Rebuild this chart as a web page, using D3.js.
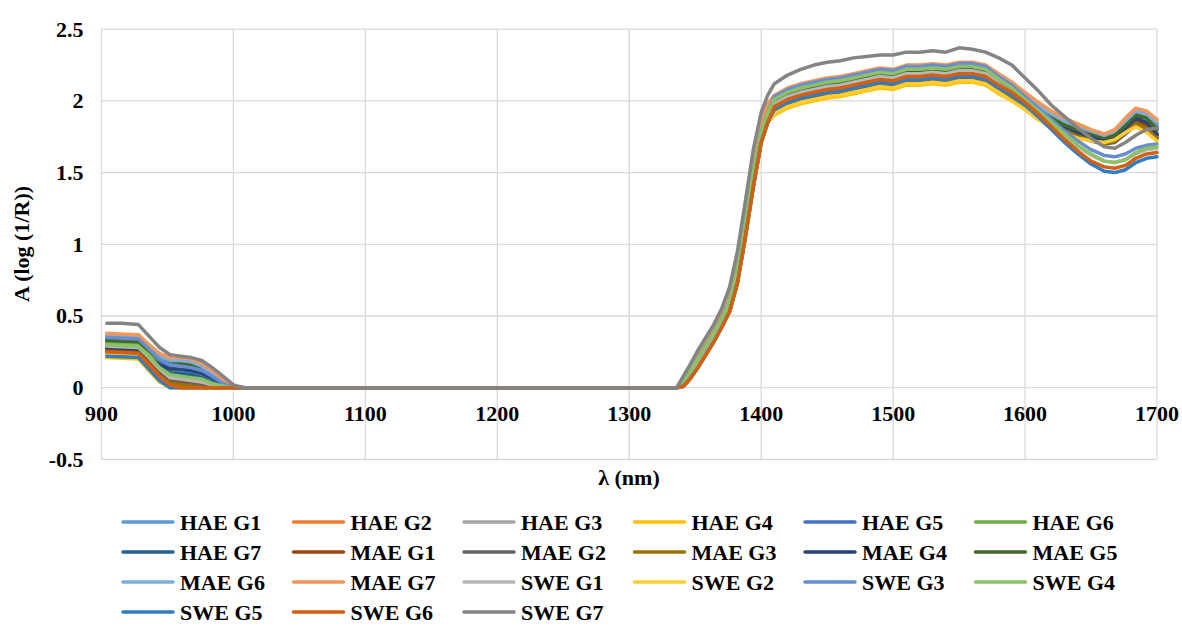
<!DOCTYPE html>
<html><head><meta charset="utf-8">
<script src="https://cdn.jsdelivr.net/npm/d3@7"></script>
</head><body style="margin:0">
<svg id="chart" width="1182" height="626"></svg>
<script>
// ---------- DATA ----------
const wavelengths = [904,915,928,936,944,952,960,968,976,984,992,1000,1008,1336,
  1341,1346,1352,1358,1364,1370,1376,1382,1388,1394,1400,1405,
  1410,1420,1430,1440,1450,1460,1470,1480,1490,1500,1510,1520,1530,1540,1550,1560,1570,
  1580,1590,1600,1610,1620,1630,1640,1650,1660,1668,1676,1684,1692,1700];

const seriesNames = ["HAE G1","HAE G2","HAE G3","HAE G4","HAE G5","HAE G6","HAE G7",
  "MAE G1","MAE G2","MAE G3","MAE G4","MAE G5","MAE G6","MAE G7",
  "SWE G1","SWE G2","SWE G3","SWE G4","SWE G5","SWE G6","SWE G7"];

const haeG1 = [0.32,0.315,0.31,0.24,0.17,0.12,0.11,0.10,0.08,0.05,0.02,0,0, 0, 0.04,0.11,0.20,0.29,0.38,0.48,0.60,0.82,1.15,1.50,1.78,1.92, 2.01,2.06,2.09,2.11,2.13,2.14,2.16,2.18,2.20,2.19,2.22,2.22,2.23,2.22,2.24,2.24,2.22, 2.16,2.10,2.03,1.96,1.90,1.85,1.81,1.78,1.75,1.78,1.85,1.92,1.90,1.84];
const haeG2 = [0.37,0.365,0.36,0.29,0.23,0.20,0.20,0.19,0.16,0.11,0.05,0.01,0, 0, 0.07,0.15,0.25,0.34,0.43,0.54,0.68,0.92,1.27,1.62,1.86,1.98, 2.03,2.08,2.11,2.13,2.15,2.16,2.18,2.20,2.22,2.21,2.24,2.24,2.25,2.24,2.26,2.26,2.24, 2.18,2.12,2.05,1.98,1.92,1.87,1.83,1.79,1.76,1.79,1.86,1.93,1.91,1.85];
const haeG3 = [0.30,0.295,0.29,0.22,0.15,0.10,0.09,0.08,0.06,0.03,0.01,0,0, 0, 0.03,0.09,0.18,0.27,0.36,0.46,0.57,0.79,1.11,1.46,1.75,1.90, 1.98,2.03,2.06,2.08,2.10,2.11,2.13,2.15,2.17,2.16,2.19,2.19,2.20,2.19,2.21,2.21,2.19, 2.13,2.07,2.00,1.93,1.87,1.82,1.78,1.75,1.72,1.74,1.80,1.86,1.84,1.78];
const haeG4 = [0.21,0.205,0.20,0.12,0.04,0,0,0,0,0,0,0,0, 0, 0.01,0.06,0.14,0.23,0.32,0.42,0.53,0.73,1.05,1.40,1.71,1.85, 1.90,1.95,1.98,2.00,2.02,2.03,2.05,2.07,2.09,2.08,2.11,2.11,2.12,2.11,2.13,2.13,2.11, 2.05,2.00,1.94,1.87,1.82,1.78,1.75,1.73,1.72,1.73,1.78,1.83,1.79,1.73];
const haeG5 = [0.34,0.335,0.33,0.26,0.19,0.14,0.13,0.12,0.10,0.06,0.02,0,0, 0, 0.04,0.11,0.20,0.29,0.38,0.48,0.60,0.82,1.15,1.50,1.78,1.92, 2.02,2.07,2.10,2.12,2.14,2.15,2.17,2.19,2.21,2.20,2.23,2.23,2.24,2.23,2.25,2.25,2.23, 2.16,2.10,2.03,1.96,1.89,1.84,1.80,1.77,1.74,1.76,1.83,1.90,1.88,1.82];
const haeG6 = [0.31,0.305,0.30,0.23,0.16,0.11,0.10,0.09,0.07,0.04,0.01,0,0, 0, 0.04,0.11,0.20,0.29,0.38,0.48,0.60,0.82,1.15,1.50,1.78,1.92, 2.00,2.05,2.08,2.10,2.12,2.13,2.15,2.17,2.19,2.18,2.21,2.21,2.22,2.21,2.23,2.23,2.21, 2.15,2.09,2.02,1.95,1.89,1.84,1.80,1.77,1.74,1.77,1.84,1.90,1.88,1.81];
const haeG7 = [0.27,0.265,0.26,0.20,0.14,0.10,0.10,0.09,0.07,0.04,0.01,0,0, 0, 0.03,0.09,0.18,0.27,0.36,0.46,0.57,0.79,1.11,1.46,1.75,1.90, 1.96,2.01,2.04,2.06,2.08,2.09,2.11,2.13,2.15,2.14,2.17,2.17,2.18,2.17,2.19,2.19,2.17, 2.11,2.05,1.98,1.91,1.85,1.81,1.77,1.74,1.71,1.73,1.80,1.86,1.84,1.76];
const maeG1 = [0.26,0.255,0.25,0.18,0.11,0.06,0.05,0.04,0.03,0.01,0,0,0, 0, 0.03,0.09,0.18,0.27,0.36,0.46,0.57,0.79,1.11,1.46,1.75,1.90, 1.95,2.00,2.03,2.05,2.07,2.08,2.10,2.12,2.14,2.13,2.16,2.16,2.17,2.16,2.18,2.18,2.16, 2.10,2.04,1.97,1.90,1.84,1.80,1.76,1.73,1.71,1.73,1.79,1.85,1.83,1.76];
const maeG2 = [0.24,0.235,0.23,0.16,0.09,0.04,0.03,0.02,0.01,0,0,0,0, 0, 0.03,0.09,0.18,0.27,0.36,0.46,0.57,0.79,1.11,1.46,1.75,1.90, 1.92,1.97,2.00,2.02,2.04,2.05,2.07,2.09,2.11,2.10,2.13,2.13,2.14,2.13,2.15,2.15,2.13, 2.07,2.01,1.95,1.88,1.82,1.78,1.75,1.72,1.70,1.71,1.77,1.83,1.80,1.74];
const maeG3 = [0.245,0.24,0.235,0.16,0.08,0.03,0.02,0.01,0,0,0,0,0, 0, 0.01,0.06,0.14,0.23,0.32,0.42,0.53,0.73,1.05,1.40,1.71,1.85, 1.94,1.99,2.02,2.04,2.06,2.07,2.09,2.11,2.13,2.12,2.15,2.15,2.16,2.15,2.17,2.17,2.15, 2.09,2.03,1.96,1.89,1.83,1.79,1.76,1.73,1.70,1.72,1.78,1.84,1.81,1.75];
const maeG4 = [0.28,0.275,0.27,0.21,0.16,0.13,0.13,0.12,0.10,0.07,0.03,0,0, 0, 0.04,0.11,0.20,0.29,0.38,0.48,0.60,0.82,1.15,1.50,1.78,1.92, 1.97,2.02,2.05,2.07,2.09,2.10,2.12,2.14,2.16,2.15,2.18,2.18,2.19,2.18,2.20,2.20,2.18, 2.12,2.06,1.99,1.92,1.86,1.82,1.78,1.75,1.72,1.74,1.81,1.88,1.85,1.77];
const maeG5 = [0.33,0.325,0.32,0.26,0.20,0.17,0.17,0.16,0.14,0.10,0.05,0.01,0, 0, 0.04,0.11,0.20,0.29,0.38,0.48,0.60,0.82,1.15,1.50,1.78,1.92, 1.99,2.04,2.07,2.09,2.11,2.12,2.14,2.16,2.18,2.17,2.20,2.20,2.21,2.20,2.22,2.22,2.20, 2.14,2.08,2.01,1.94,1.88,1.83,1.80,1.77,1.74,1.76,1.83,1.90,1.88,1.80];
const maeG6 = [0.36,0.355,0.35,0.28,0.22,0.19,0.19,0.18,0.15,0.10,0.05,0.01,0, 0, 0.04,0.11,0.20,0.29,0.38,0.48,0.60,0.82,1.15,1.50,1.78,1.92, 2.02,2.07,2.10,2.12,2.14,2.15,2.17,2.19,2.21,2.20,2.23,2.23,2.24,2.23,2.25,2.25,2.23, 2.17,2.11,2.04,1.97,1.91,1.86,1.82,1.79,1.76,1.79,1.86,1.93,1.91,1.85];
const maeG7 = [0.38,0.375,0.37,0.30,0.24,0.21,0.21,0.20,0.17,0.12,0.06,0.01,0, 0, 0.07,0.15,0.25,0.34,0.43,0.54,0.68,0.92,1.27,1.62,1.86,1.98, 2.04,2.09,2.12,2.14,2.16,2.17,2.19,2.21,2.23,2.22,2.25,2.25,2.26,2.25,2.27,2.27,2.25, 2.19,2.13,2.06,1.99,1.93,1.88,1.84,1.80,1.77,1.80,1.88,1.95,1.93,1.87];
const sweG1 = [0.29,0.285,0.28,0.21,0.13,0.07,0.06,0.05,0.04,0.02,0,0,0, 0, 0.03,0.09,0.18,0.27,0.36,0.46,0.57,0.79,1.11,1.46,1.75,1.90, 1.98,2.03,2.06,2.08,2.10,2.11,2.13,2.15,2.17,2.16,2.19,2.19,2.20,2.19,2.21,2.21,2.19, 2.12,2.06,1.99,1.91,1.83,1.75,1.68,1.62,1.58,1.57,1.59,1.63,1.66,1.67];
const sweG2 = [0.23,0.225,0.22,0.14,0.06,0.01,0,0,0,0,0,0,0, 0, 0.01,0.06,0.14,0.23,0.32,0.42,0.53,0.73,1.05,1.40,1.71,1.85, 1.91,1.96,1.99,2.01,2.03,2.04,2.06,2.08,2.10,2.09,2.12,2.12,2.13,2.12,2.14,2.14,2.12, 2.06,2.00,1.94,1.87,1.81,1.77,1.74,1.72,1.71,1.73,1.78,1.82,1.78,1.72];
const sweG3 = [0.35,0.345,0.34,0.27,0.20,0.16,0.15,0.14,0.12,0.08,0.03,0,0, 0, 0.04,0.11,0.20,0.29,0.38,0.48,0.60,0.82,1.15,1.50,1.78,1.92, 2.03,2.08,2.11,2.13,2.15,2.16,2.18,2.20,2.22,2.21,2.24,2.24,2.25,2.24,2.26,2.26,2.24, 2.17,2.11,2.03,1.95,1.87,1.79,1.72,1.66,1.62,1.61,1.63,1.67,1.69,1.70];
const sweG4 = [0.30,0.295,0.29,0.22,0.14,0.09,0.08,0.07,0.06,0.03,0.01,0,0, 0, 0.04,0.11,0.20,0.29,0.38,0.48,0.60,0.82,1.15,1.50,1.78,1.92, 2.01,2.06,2.09,2.11,2.13,2.14,2.16,2.18,2.20,2.19,2.22,2.22,2.23,2.22,2.24,2.24,2.22, 2.15,2.09,2.01,1.93,1.85,1.77,1.69,1.63,1.58,1.57,1.59,1.64,1.67,1.68];
const sweG5 = [0.22,0.215,0.21,0.13,0.05,0,0,0,0,0,0,0,0, 0, 0.01,0.06,0.14,0.23,0.32,0.42,0.53,0.73,1.05,1.40,1.71,1.85, 1.94,1.99,2.02,2.04,2.06,2.07,2.09,2.11,2.13,2.12,2.15,2.15,2.16,2.15,2.17,2.17,2.15, 2.09,2.04,1.97,1.89,1.80,1.71,1.63,1.56,1.51,1.50,1.52,1.57,1.60,1.61];
const sweG6 = [0.25,0.245,0.24,0.16,0.08,0.02,0,0,0,0,0,0,0, 0, 0.01,0.06,0.14,0.23,0.32,0.42,0.53,0.73,1.05,1.40,1.71,1.85, 1.96,2.01,2.04,2.06,2.08,2.09,2.11,2.13,2.15,2.14,2.17,2.17,2.18,2.17,2.19,2.19,2.17, 2.11,2.06,1.99,1.91,1.82,1.73,1.65,1.58,1.54,1.53,1.55,1.60,1.63,1.64];
const sweG7 = [0.45,0.45,0.44,0.36,0.28,0.23,0.22,0.21,0.19,0.14,0.08,0.02,0, 0, 0.08,0.16,0.26,0.35,0.44,0.55,0.70,0.95,1.30,1.66,1.92,2.04, 2.12,2.18,2.22,2.25,2.27,2.28,2.30,2.31,2.32,2.32,2.34,2.34,2.35,2.34,2.37,2.36,2.34, 2.30,2.25,2.16,2.07,1.97,1.89,1.81,1.74,1.68,1.67,1.71,1.76,1.80,1.81];

const seriesValues = [haeG1,haeG2,haeG3,haeG4,haeG5,haeG6,haeG7,maeG1,maeG2,maeG3,maeG4,maeG5,maeG6,maeG7,sweG1,sweG2,sweG3,sweG4,sweG5,sweG6,sweG7];

const xTicks = [900,1000,1100,1200,1300,1400,1500,1600,1700];
const yTicks = [-0.5,0,0.5,1,1.5,2,2.5];

// ---------- STYLE ----------
const colors = ["#5B9BD5","#ED7D31","#A5A5A5","#FFC000","#4472C4","#70AD47","#255E91",
  "#9E480E","#636363","#997300","#264478","#43682B","#7CAFDD","#F1975A",
  "#B7B7B7","#FFCD33","#698ED0","#8CC168","#327DC2","#D26012","#848484"];
const FONT = "'Liberation Serif'";
const FS = 22;

const svg = d3.select("#chart");
svg.append("rect").attr("width",1182).attr("height",626).attr("fill","#fff");

const x = d3.scaleLinear().domain([900,1700]).range([101.5,1157]);
const y = d3.scaleLinear().domain([-0.5,2.5]).range([459.4,29.2]);

const grid = svg.append("g");
grid.selectAll(".gy").data(yTicks).join("line")
  .attr("x1",x(900)).attr("x2",x(1700))
  .attr("y1",d=>y(d)).attr("y2",d=>y(d))
  .attr("stroke","#D9D9D9").attr("stroke-width",1.3);
grid.selectAll(".gx").data(xTicks).join("line")
  .attr("x1",d=>x(d)).attr("x2",d=>x(d))
  .attr("y1",y(2.5)).attr("y2",y(-0.5))
  .attr("stroke","#D9D9D9").attr("stroke-width",1.3);

// tick labels drawn from the scales
svg.append("g").selectAll("text").data(yTicks).join("text")
  .attr("x",x(900)-18).attr("y",d=>y(d)).attr("dy","0.34em")
  .attr("text-anchor","end")
  .attr("font-family",FONT).attr("font-weight","bold").attr("font-size",FS)
  .text(d=>String(d));
svg.append("g").selectAll("text").data(xTicks).join("text")
  .attr("x",d=>x(d)).attr("y",y(0)+33)
  .attr("text-anchor","middle")
  .attr("font-family",FONT).attr("font-weight","bold").attr("font-size",FS)
  .text(d=>String(d));

// lines
const line = d3.line().x((d,i)=>x(wavelengths[i])).y(d=>y(d));
svg.append("g").selectAll("path").data(seriesValues).join("path")
  .attr("d",d=>line(d))
  .attr("fill","none")
  .attr("stroke",(d,i)=>colors[i])
  .attr("stroke-width",3.5)
  .attr("stroke-linejoin","round")
  .attr("stroke-linecap","round");

// titles
svg.append("text").attr("transform","translate(29,244) rotate(-90)")
  .attr("text-anchor","middle").attr("font-family",FONT).attr("font-weight","bold")
  .attr("font-size",FS).text("A (log (1/R))");
svg.append("text").attr("x",629).attr("y",485)
  .attr("text-anchor","middle").attr("font-family",FONT).attr("font-weight","bold")
  .attr("font-size",FS).text("λ (nm)");

// legend
const legend = svg.append("g");
seriesNames.forEach((name,i)=>{
  const col = i % 6, row = Math.floor(i/6);
  const lx = 123 + col*170.5, ly = 522 + row*30;
  legend.append("line").attr("x1",lx).attr("x2",lx+50).attr("y1",ly).attr("y2",ly)
    .attr("stroke",colors[i]).attr("stroke-width",3.5).attr("stroke-linecap","round");
  legend.append("text").attr("x",lx+57).attr("y",ly+7.5)
    .attr("font-family",FONT).attr("font-weight","bold").attr("font-size",FS).text(name);
});
</script>
</body></html>
